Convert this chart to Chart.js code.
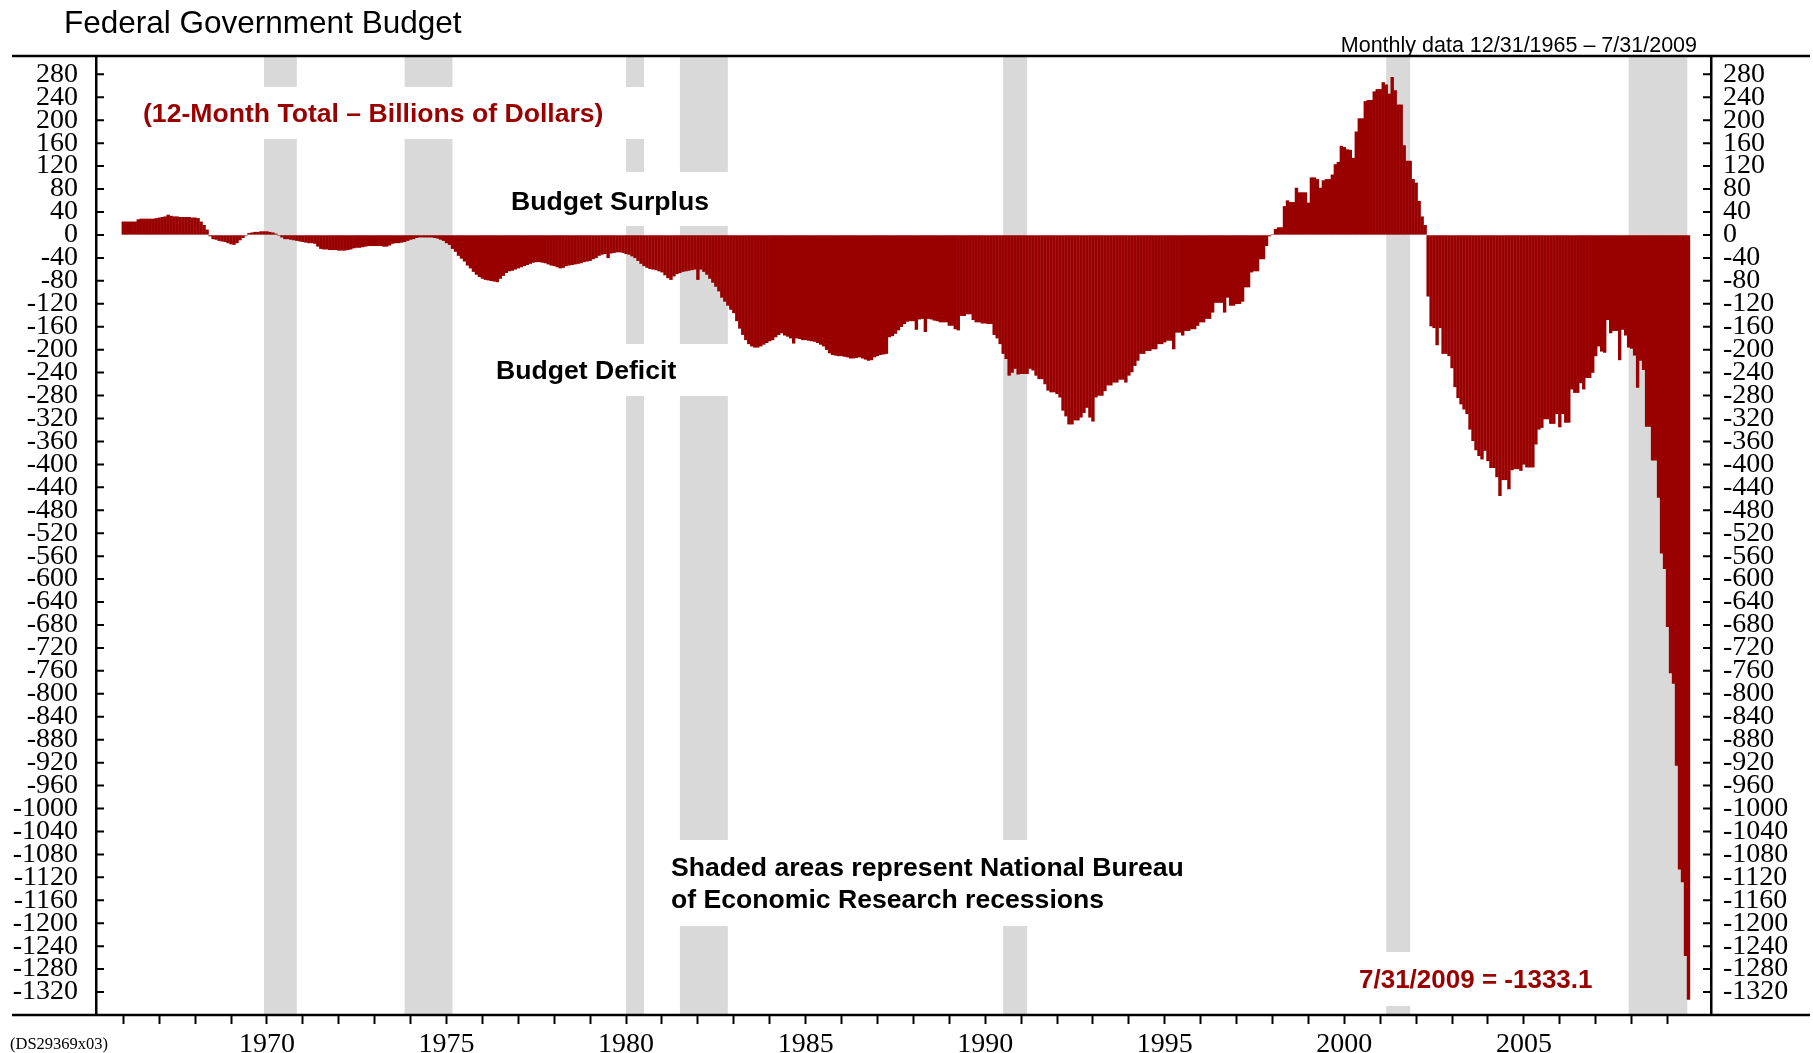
<!DOCTYPE html>
<html>
<head>
<meta charset="utf-8">
<script src="https://cdn.jsdelivr.net/npm/chart.js@4.4.1/dist/chart.umd.min.js"></script>
<style>
  html, body { margin: 0; padding: 0; background: #fff; overflow: hidden; }
  canvas { display: block; }
</style>
</head>
<body>
<canvas id="budget" width="1813" height="1053"></canvas>
<script>
// 12-month total, billions of dollars, one value per month (Dec 1965 .. Jul 2009)
const y1965 = [23]; // December only
const y1966 = [23, 23, 23, 23, 27, 28, 28, 28, 28, 28, 29, 30];
const y1967 = [31, 32, 35, 33, 32, 32, 31, 31, 31, 31, 30, 30];
const y1968 = [29, 23, 17, 9, -2, -7, -8, -10, -11, -12, -14, -16];
const y1969 = [-17, -14, -9, -5, -1, 3, 4, 5, 5, 6, 6, 6];
const y1970 = [5, 4, 2, -1, -4, -7, -7, -8, -9, -10, -11, -12];
const y1971 = [-13, -14, -14, -15, -20, -24, -25, -25, -26, -26, -26, -27];
const y1972 = [-27, -27, -26, -25, -23, -22, -22, -21, -20, -19, -19, -19];
const y1973 = [-19, -19, -20, -20, -18, -15, -14, -14, -13, -12, -10, -8];
const y1974 = [-7, -5, -4, -4, -4, -4, -4, -5, -6, -8, -10, -14];
const y1975 = [-17, -24, -29, -36, -41, -46, -53, -58, -64, -69, -73, -76];
const y1976 = [-78, -79, -80, -81, -82, -76, -71, -66, -63, -62, -60, -58];
const y1977 = [-56, -54, -52, -50, -48, -47, -47, -48, -49, -51, -53, -54];
const y1978 = [-56, -58, -57, -54, -53, -52, -51, -50, -49, -47, -46, -45];
const y1979 = [-42, -40, -36, -34, -33, -40, -32, -31, -30, -30, -31, -33];
const y1980 = [-34, -37, -40, -45, -50, -54, -57, -59, -60, -61, -63, -65];
const y1981 = [-70, -75, -78, -72, -68, -66, -64, -63, -62, -61, -60, -78];
const y1982 = [-60, -64, -69, -76, -83, -90, -98, -109, -116, -123, -130, -136];
const y1983 = [-150, -163, -174, -183, -190, -194, -196, -196, -194, -191, -188, -185];
const y1984 = [-183, -178, -174, -171, -175, -177, -180, -189, -180, -181, -183, -183];
const y1985 = [-184, -185, -186, -188, -191, -194, -200, -206, -209, -210, -211, -211];
const y1986 = [-212, -213, -215, -215, -214, -213, -215, -217, -219, -218, -213, -211];
const y1987 = [-209, -208, -207, -178, -176, -172, -166, -160, -155, -151, -150, -150];
const y1988 = [-165, -147, -146, -169, -146, -147, -149, -150, -152, -152, -152, -158];
const y1989 = [-158, -164, -166, -141, -141, -138, -138, -148, -152, -152, -154, -154];
const y1990 = [-155, -155, -174, -180, -190, -207, -216, -245, -240, -233, -243, -242];
const y1991 = [-242, -242, -233, -236, -245, -251, -251, -260, -271, -274, -274, -277];
const y1992 = [-283, -306, -316, -330, -330, -323, -323, -318, -310, -301, -318, -325];
const y1993 = [-283, -280, -280, -272, -262, -262, -257, -257, -252, -252, -257, -245];
const y1994 = [-239, -228, -219, -207, -207, -202, -202, -199, -199, -190, -190, -187];
const y1995 = [-184, -184, -199, -170, -170, -175, -167, -167, -164, -164, -158, -152];
const y1996 = [-152, -146, -146, -135, -118, -118, -118, -135, -109, -123, -123, -120];
const y1997 = [-120, -116, -91, -91, -65, -63, -63, -42, -42, -19, -2, 1];
const y1998 = [10, 13, 13, 50, 60, 57, 57, 82, 74, 74, 74, 56];
const y1999 = [100, 100, 97, 82, 95, 97, 97, 105, 123, 127, 155, 153];
const y2000 = [149, 148, 134, 180, 203, 203, 233, 235, 235, 250, 254, 254];
const y2001 = [266, 262, 246, 275, 252, 227, 227, 156, 129, 129, 97, 91];
const y2002 = [59, 32, 17, -107, -159, -162, -192, -162, -207, -207, -211, -232];
const y2003 = [-265, -284, -295, -304, -312, -339, -359, -375, -385, -391, -376, -394];
const y2004 = [-406, -406, -422, -455, -427, -427, -443, -410, -408, -408, -411, -400];
const y2005 = [-405, -405, -405, -365, -339, -336, -321, -321, -329, -329, -312, -335];
const y2006 = [-312, -327, -327, -269, -275, -275, -258, -269, -249, -249, -240, -211];
const y2007 = [-194, -203, -205, -148, -171, -167, -167, -218, -165, -175, -196, -198];
const y2008 = [-210, -266, -219, -235, -334, -334, -393, -393, -458, -555, -582, -683];
const y2009 = [-764, -782, -925, -1106, -1128, -1257, -1333.1];

const yearRows = [
  [1965, 12, y1965], [1966, 1, y1966], [1967, 1, y1967], [1968, 1, y1968], [1969, 1, y1969],
  [1970, 1, y1970], [1971, 1, y1971], [1972, 1, y1972], [1973, 1, y1973], [1974, 1, y1974],
  [1975, 1, y1975], [1976, 1, y1976], [1977, 1, y1977], [1978, 1, y1978], [1979, 1, y1979],
  [1980, 1, y1980], [1981, 1, y1981], [1982, 1, y1982], [1983, 1, y1983], [1984, 1, y1984],
  [1985, 1, y1985], [1986, 1, y1986], [1987, 1, y1987], [1988, 1, y1988], [1989, 1, y1989],
  [1990, 1, y1990], [1991, 1, y1991], [1992, 1, y1992], [1993, 1, y1993], [1994, 1, y1994],
  [1995, 1, y1995], [1996, 1, y1996], [1997, 1, y1997], [1998, 1, y1998], [1999, 1, y1999],
  [2000, 1, y2000], [2001, 1, y2001], [2002, 1, y2002], [2003, 1, y2003], [2004, 1, y2004],
  [2005, 1, y2005], [2006, 1, y2006], [2007, 1, y2007], [2008, 1, y2008], [2009, 1, y2009]
];

// NBER recessions (decimal years)
const recessionStart = [1969.917, 1973.833, 1980.0, 1981.5, 1990.5, 2001.167, 2007.917];
const recessionEnd   = [1970.833, 1975.167, 1980.5, 1982.833, 1991.167, 2001.833, 2009.55];

const yTicks = [280, 240, 200, 160, 120, 80, 40, 0, -40, -80, -120, -160, -200, -240, -280, -320,
  -360, -400, -440, -480, -520, -560, -600, -640, -680, -720, -760, -800, -840, -880, -920, -960,
  -1000, -1040, -1080, -1120, -1160, -1200, -1240, -1280, -1320];
const xTickYears = [1966, 1967, 1968, 1969, 1970, 1971, 1972, 1973, 1974, 1975, 1976, 1977, 1978,
  1979, 1980, 1981, 1982, 1983, 1984, 1985, 1986, 1987, 1988, 1989, 1990, 1991, 1992, 1993, 1994,
  1995, 1996, 1997, 1998, 1999, 2000, 2001, 2002, 2003, 2004, 2005, 2006, 2007, 2008, 2009];
const xLabelYears = [1970, 1975, 1980, 1985, 1990, 1995, 2000, 2005];

const RED = '#990000';
const SANS = '"Liberation Sans", Arial, sans-serif';
const SERIF = '"Liberation Serif", "Times New Roman", serif';

const points = [];
yearRows.forEach(([year, firstMonth, vals]) => {
  vals.forEach((v, i) => points.push({ x: year + (firstMonth + i) / 12, y: v }));
});

const decor = {
  id: 'decor',
  beforeDatasetsDraw(chart) {
    const { ctx, chartArea: a, scales: { x } } = chart;
    ctx.save();
    ctx.fillStyle = '#d9d9d9';
    recessionStart.forEach((s, i) => {
      const x0 = x.getPixelForValue(s);
      const x1 = x.getPixelForValue(recessionEnd[i]);
      ctx.fillRect(x0, a.top, x1 - x0, a.bottom - a.top);
    });
    // white boxes behind the labels
    ctx.fillStyle = '#fff';
    ctx.fillRect(130, 87, 525, 52);
    ctx.fillRect(500, 172, 245, 54);
    ctx.fillRect(485, 344, 262, 52);
    ctx.fillRect(658, 840, 540, 86);
    ctx.fillRect(1340, 952, 265, 54);
    ctx.restore();
  },
  afterDraw(chart) {
    const { ctx, chartArea: a, scales: { y } } = chart;
    ctx.save();
    // frame lines
    ctx.strokeStyle = '#000';
    ctx.lineWidth = 2.5;
    ctx.beginPath();
    ctx.moveTo(12, a.top); ctx.lineTo(1810, a.top);
    ctx.moveTo(12, a.bottom); ctx.lineTo(1810, a.bottom);
    ctx.stroke();
    // inward tick marks on both value axes
    ctx.lineWidth = 2;
    ctx.beginPath();
    yTicks.forEach(v => {
      const py = y.getPixelForValue(v);
      ctx.moveTo(a.left, py); ctx.lineTo(a.left + 8, py);
      ctx.moveTo(a.right - 8, py); ctx.lineTo(a.right, py);
    });
    ctx.stroke();

    ctx.fillStyle = '#000';
    ctx.textBaseline = 'alphabetic';
    ctx.textAlign = 'left';
    ctx.font = '31.5px ' + SANS;
    ctx.fillText('Federal Government Budget', 64, 33);
    ctx.textAlign = 'right';
    ctx.font = '21.5px ' + SANS;
    ctx.fillText('Monthly data 12/31/1965 \u2013 7/31/2009', 1697, 52);

    ctx.textAlign = 'left';
    ctx.textBaseline = 'middle';
    ctx.font = 'bold 26.6px ' + SANS;
    ctx.fillStyle = RED;
    ctx.fillText('(12-Month Total \u2013 Billions of Dollars)', 143, 115);
    ctx.fillStyle = '#000';
    ctx.fillText('Budget Surplus', 511, 203);
    ctx.fillText('Budget Deficit', 496, 372);
    ctx.fillText('Shaded areas represent National Bureau', 671, 869);
    ctx.fillText('of Economic Research recessions', 671, 901);
    ctx.font = 'bold 26px ' + SANS;
    ctx.fillStyle = RED;
    ctx.fillText('7/31/2009 = -1333.1', 1359, 981);

    ctx.fillStyle = '#000';
    ctx.font = '16.5px ' + SERIF;
    ctx.fillText('(DS29369x03)', 10, 1045);
    ctx.restore();
  }
};

const valueAxis = (position) => ({
  position,
  min: -1360,
  max: 312,
  afterBuildTicks: s => { s.ticks = yTicks.map(v => ({ value: v })); },
  afterFit: s => { s.width = position === 'left' ? 96 : 102; },
  grid: { drawOnChartArea: false, drawTicks: false },
  border: { display: true, color: '#000', width: 2.5 },
  ticks: {
    autoSkip: false,
    padding: position === 'left' ? 18 : 12,
    color: '#000',
    font: { family: SERIF, size: 28 },
    callback: v => String(v)
  }
});

new Chart(document.getElementById('budget'), {
  type: 'bar',
  data: {
    datasets: [{
      data: points,
      backgroundColor: RED,
      borderWidth: 0,
      inflateAmount: 0.2,
      barPercentage: 1,
      categoryPercentage: 1,
      yAxisID: 'y'
    }]
  },
  options: {
    responsive: false,
    animation: false,
    devicePixelRatio: 1,
    layout: { padding: { left: 0, right: 0, top: 56, bottom: 0 } },
    plugins: { legend: { display: false }, tooltip: { enabled: false } },
    scales: {
      x: {
        type: 'linear',
        position: 'bottom',
        offset: false,
        min: 1965.24,
        max: 2010.21,
        afterBuildTicks: s => { s.ticks = xTickYears.map(v => ({ value: v })); },
        afterFit: s => { s.height = 38; },
        grid: {
          offset: false,
          drawOnChartArea: false,
          drawTicks: true,
          tickLength: 9,
          tickColor: '#000',
          tickWidth: 2
        },
        border: { display: false },
        ticks: {
          autoSkip: false,
          maxRotation: 0,
          padding: 4,
          color: '#000',
          font: { family: SERIF, size: 28 },
          callback: v => xLabelYears.includes(v) ? String(v) : ''
        }
      },
      y: valueAxis('left'),
      y2: valueAxis('right')
    }
  },
  plugins: [decor]
});
</script>
</body>
</html>
